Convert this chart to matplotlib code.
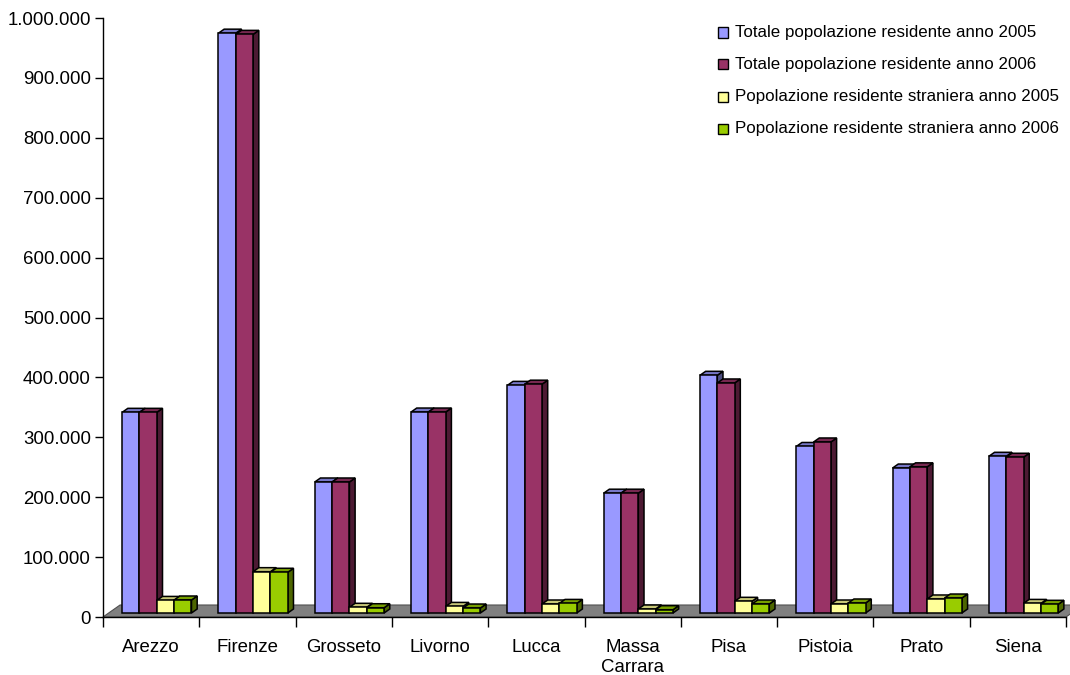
import numpy as np
import matplotlib.pyplot as plt
from matplotlib.patches import Polygon, Rectangle
from matplotlib.colors import to_rgb

plt.rcParams['font.family'] = ['Liberation Sans', 'DejaVu Sans']

# Dati
province = ['Arezzo', 'Firenze', 'Grosseto', 'Livorno', 'Lucca',
            'Massa\nCarrara', 'Pisa', 'Pistoia', 'Prato', 'Siena']
tot_2005 = [335000, 968000, 218700, 335500, 380000, 200000, 396800, 278000, 242000, 261600]
tot_2006 = [335000, 966000, 218700, 335500, 382000, 200000, 384000, 285500, 244000, 260000]
str_2005 = [21000, 69000, 9500, 11000, 15000, 6700, 19500, 15000, 23400, 16000]
str_2006 = [21700, 68000, 8800, 8300, 16000, 5500, 15000, 16700, 25000, 14500]

serie = ['Totale popolazione residente anno 2005',
         'Totale popolazione residente anno 2006',
         'Popolazione residente straniera anno 2005',
         'Popolazione residente straniera anno 2006']
valori = [tot_2005, tot_2006, str_2005, str_2006]
colori = ['#9999FF', '#993366', '#FFFF99', '#99CC00']

yticks = np.arange(0, 1000001, 100000)


def scuro(c, f):
    r, g, b = to_rgb(c)
    return (r * f, g * f, b * f)


fig = plt.figure(figsize=(10.7, 6.75), dpi=100)
W, H = 1070, 675
ax = fig.add_axes([103 / W, 58 / H, 963 / W, 599 / H])
n = len(province)
ax.set_xlim(0, n)
ax.set_ylim(0, 1000000)

# conversione pixel -> unita' dati (prospettiva finta)
px_x = n / 963
px_y = 1000000 / 599
ratio = 1.42

# pavimento
fd = 12
floor = Polygon([(0, 0), (n, 0), (n + fd * ratio * px_x, fd * px_y),
                 (fd * ratio * px_x, fd * px_y)],
                closed=True, facecolor='#808080', edgecolor='#505050',
                lw=0.8, zorder=1, clip_on=False)
ax.add_patch(floor)

# barre 3D
w = 0.18
start = (1 - 4 * w) / 2
sx = 4 * ratio * px_x
sy = 4 * px_y
for i in range(n):
    for j, vals in enumerate(valori):
        v = vals[i]
        x0 = i + start + j * w + sx
        y0 = sy
        c = colori[j]
        side = Polygon([(x0 + w, y0), (x0 + w + sx, y0 + sy), (x0 + w + sx, v + y0 + sy), (x0 + w, v + y0)],
                       closed=True, facecolor=scuro(c, 0.5), edgecolor='black', lw=1.1,
                       zorder=2, clip_on=False)
        top = Polygon([(x0, v + y0), (x0 + w, v + y0), (x0 + w + sx, v + y0 + sy), (x0 + sx, v + y0 + sy)],
                      closed=True, facecolor=scuro(c, 0.78), edgecolor='black', lw=1.1,
                      zorder=2, clip_on=False)
        front = Rectangle((x0, y0), w, v, facecolor=c, edgecolor='black', lw=1.1,
                          zorder=2, clip_on=False)
        ax.add_patch(side)
        ax.add_patch(top)
        ax.add_patch(front)

# assi
for s in ['top', 'right']:
    ax.spines[s].set_visible(False)
for s in ['left', 'bottom']:
    ax.spines[s].set_color('black')
    ax.spines[s].set_linewidth(1.0)
    ax.spines[s].set_zorder(3)

ax.set_yticks(yticks)
ax.set_yticklabels([f'{int(t):,}'.replace(',', '.') for t in yticks], fontsize=13.4)
ax.tick_params(axis='y', direction='out', length=5.8, width=1, pad=2.9)

ax.set_xticks(np.arange(0, n + 1))
ax.set_xticklabels([])
ax.set_xticks(np.arange(n) + 0.5, minor=True)
ax.set_xticklabels(province, minor=True, fontsize=13.4, linespacing=1.25, va='top')
ax.tick_params(axis='x', which='major', direction='out', length=7.2, width=1)
ax.tick_params(axis='x', which='minor', length=0, pad=15.5)

# legenda
ly = [32.5, 64, 97, 129]
for j in range(4):
    sq = Rectangle((718 / W, 1 - (ly[j] + 5) / H), 10 / W, 10 / H, transform=fig.transFigure,
                   facecolor=colori[j], edgecolor='black', lw=1.0)
    fig.patches.append(sq)
    fig.text(735 / W, 1 - ly[j] / H, serie[j], fontsize=12.2, va='center', ha='left')

fig.savefig('out.png', dpi=100)
